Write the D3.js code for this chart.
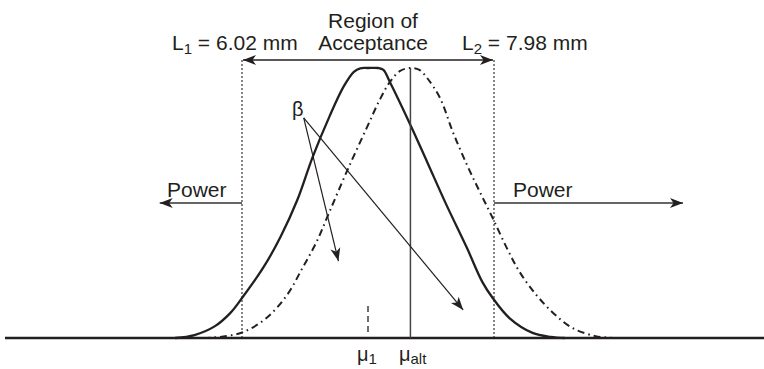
<!DOCTYPE html>
<html>
<head>
<meta charset="utf-8">
<script src="https://cdn.jsdelivr.net/npm/d3@7"></script>
<style>
  html, body { margin: 0; padding: 0; background: #fff; }
  svg { display: block; }
  text { font-family: "Liberation Sans", Arial, Helvetica, sans-serif; fill: #231f20; }
</style>
</head>
<body>
<svg id="chart" width="764" height="369"></svg>
<script>
// Acceptance limits (mm) and the two process means
const limits = [6.02, 7.98];
const limitLabels = ["L", "L"];
const limitSubs = ["1", "2"];
const limitTexts = [" = 6.02 mm", " = 7.98 mm"];
const mu1 = 7.00;
const muAlt = 7.33;

// Sampling distribution centred on mu1 (solid), position in mm vs relative density
const nullX = [5.50, 5.65, 5.81, 5.93, 6.02, 6.19, 6.32, 6.45, 6.57, 6.70, 6.81, 6.89, 6.94, 7.00, 7.08, 7.12, 7.17, 7.33, 7.46, 7.61, 7.77, 7.89, 7.97, 8.10, 8.28, 8.42, 8.53];
const nullY = [0.000, 0.011, 0.044, 0.093, 0.148, 0.264, 0.375, 0.511, 0.671, 0.820, 0.931, 0.986, 0.999, 1.000, 1.000, 0.993, 0.948, 0.789, 0.652, 0.493, 0.333, 0.207, 0.148, 0.074, 0.019, 0.004, 0.000];

// Sampling distribution centred on the alternative mean (dash-dot)
const altX = [5.72, 5.85, 6.03, 6.21, 6.37, 6.49, 6.60, 6.70, 6.84, 6.99, 7.09, 7.17, 7.25, 7.33, 7.40, 7.46, 7.56, 7.66, 7.77, 7.87, 7.97, 8.08, 8.18, 8.31, 8.44, 8.59, 8.77, 8.92];
const altY = [0.000, 0.004, 0.022, 0.074, 0.159, 0.259, 0.356, 0.467, 0.622, 0.778, 0.881, 0.948, 0.989, 1.000, 0.993, 0.963, 0.889, 0.763, 0.641, 0.541, 0.444, 0.333, 0.244, 0.159, 0.093, 0.037, 0.007, 0.000];

// Annotation anchors (mm, relative density)
const powerArrowEnds = [5.38, 9.45];
const powerLevel = 0.5;
const betaFrom = [6.50, 0.815];
const betaTargets = [[6.77, 0.285], [7.74, 0.104]];

const svg = d3.select("#chart");
const ink = "#231f20";

const x = d3.scaleLinear().domain(limits).range([242, 494]);
const y = d3.scaleLinear().domain([0, 1]).range([338, 68]);

// arrowhead marker
const defs = svg.append("defs");
defs.append("marker")
  .attr("id", "head")
  .attr("markerUnits", "userSpaceOnUse")
  .attr("markerWidth", 16).attr("markerHeight", 12)
  .attr("viewBox", "-14 -6 16 12")
  .attr("refX", 0).attr("refY", 0)
  .attr("orient", "auto-start-reverse")
  .append("path")
  .attr("d", "M0,0 L-13,-5 L-9.5,0 L-13,5 Z")
  .attr("fill", ink);

// baseline
svg.append("line")
  .attr("x1", 5).attr("x2", 764)
  .attr("y1", y(0)).attr("y2", y(0))
  .attr("stroke", ink).attr("stroke-width", 2.6);

// acceptance limits (dotted)
svg.selectAll("line.limit").data(limits).join("line")
  .attr("class", "limit")
  .attr("x1", d => x(d)).attr("x2", d => x(d))
  .attr("y1", y(1) - 8).attr("y2", y(0))
  .attr("stroke", ink).attr("stroke-width", 1.1)
  .attr("stroke-dasharray", "2,2");

// region of acceptance double arrow
svg.append("line")
  .attr("x1", x(limits[0]) + 1).attr("x2", x(limits[1]) - 1)
  .attr("y1", y(1) - 8).attr("y2", y(1) - 8)
  .attr("stroke", ink).attr("stroke-width", 1.5)
  .attr("marker-start", "url(#head)")
  .attr("marker-end", "url(#head)");

// curves
const line = d3.line().x(d => x(d[0])).y(d => y(d[1])).curve(d3.curveCatmullRom.alpha(0.5));
svg.append("path")
  .datum(d3.zip(altX, altY))
  .attr("d", line)
  .attr("fill", "none").attr("stroke", ink).attr("stroke-width", 2)
  .attr("stroke-dasharray", "7,4,1.6,4");
svg.append("path")
  .datum(d3.zip(nullX, nullY))
  .attr("d", line)
  .attr("fill", "none").attr("stroke", ink).attr("stroke-width", 2.3);

// mean markers
svg.append("line")
  .attr("x1", x(muAlt)).attr("x2", x(muAlt))
  .attr("y1", y(1)).attr("y2", y(0))
  .attr("stroke", "#444").attr("stroke-width", 1.5);
svg.append("line")
  .attr("x1", x(mu1)).attr("x2", x(mu1))
  .attr("y1", y(0) - 6).attr("y2", y(0) - 34)
  .attr("stroke", ink).attr("stroke-width", 1.3)
  .attr("stroke-dasharray", "6,4");

// power arrows
powerArrowEnds.forEach((end, i) => {
  svg.append("line")
    .attr("x1", x(limits[i])).attr("x2", x(end))
    .attr("y1", y(powerLevel)).attr("y2", y(powerLevel))
    .attr("stroke", "#333").attr("stroke-width", 1.5)
    .attr("marker-end", "url(#head)");
});
svg.append("text").attr("x", 167).attr("y", 197).attr("font-size", 21).text("Power");
svg.append("text").attr("x", 513).attr("y", 197).attr("font-size", 21).text("Power");

// beta arrows
betaTargets.forEach(t => {
  svg.append("line")
    .attr("x1", x(betaFrom[0])).attr("y1", y(betaFrom[1]))
    .attr("x2", x(t[0])).attr("y2", y(t[1]))
    .attr("stroke", ink).attr("stroke-width", 1.2)
    .attr("marker-end", "url(#head)");
});
svg.append("text")
  .attr("x", x(betaFrom[0]) - 6).attr("y", y(betaFrom[1]) - 2)
  .attr("text-anchor", "middle").attr("font-size", 20).text("β");

// header texts
svg.append("text").attr("x", 373).attr("y", 28).attr("text-anchor", "middle")
  .attr("font-size", 21).text("Region of");
svg.append("text").attr("x", 373).attr("y", 50).attr("text-anchor", "middle")
  .attr("font-size", 21).text("Acceptance");

const limitX = [172, 462];
limits.forEach((d, i) => {
  const t = svg.append("text").attr("x", limitX[i]).attr("y", 50).attr("font-size", 21);
  t.append("tspan").text(limitLabels[i]);
  t.append("tspan").attr("font-size", 15).attr("dy", 4).text(limitSubs[i]);
  t.append("tspan").attr("dy", -4).text(limitTexts[i]);
});

// mean labels
const muLabels = [[mu1, "1", 357], [muAlt, "alt", 399]];
muLabels.forEach(m => {
  const t = svg.append("text").attr("x", m[2]).attr("y", 361).attr("font-size", 20);
  t.append("tspan").text("μ");
  t.append("tspan").attr("font-size", 15).attr("dy", 3).text(m[1]);
});
</script>
</body>
</html>
